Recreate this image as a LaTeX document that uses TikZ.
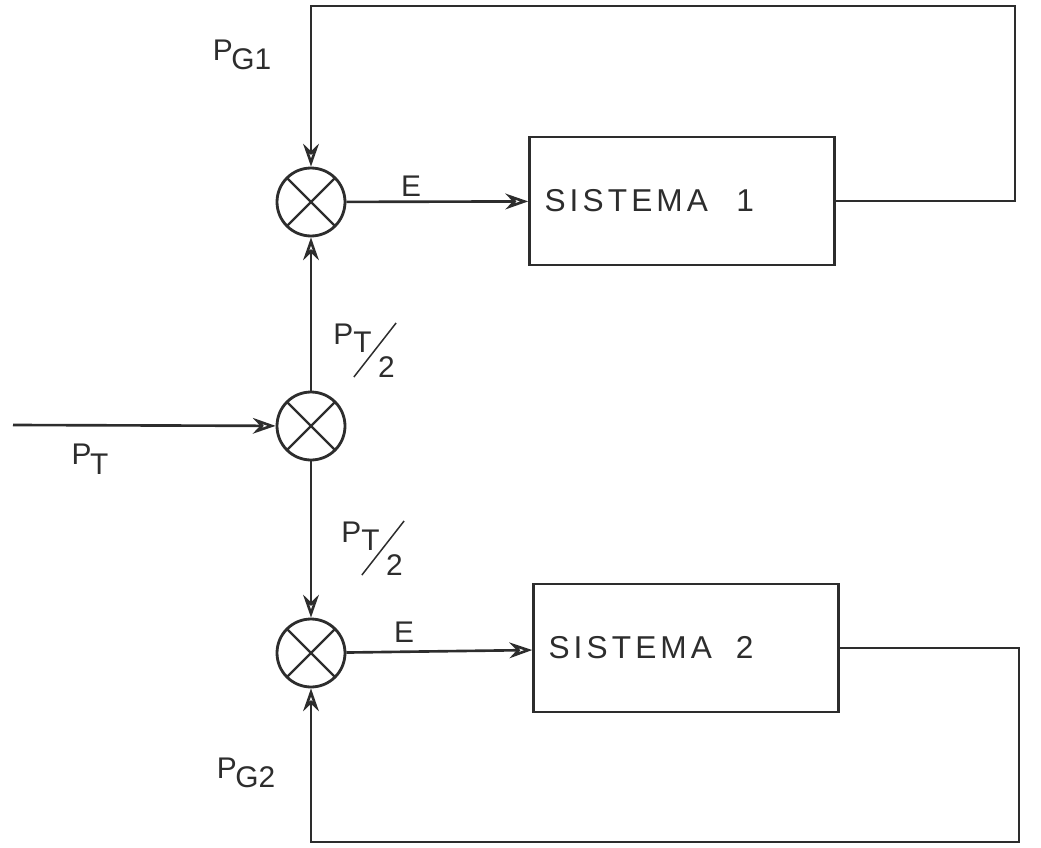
\documentclass[tikz,border=0pt]{standalone}
\usepackage{fontspec}
\usepackage{graphicx}
\setmainfont{Liberation Sans}
\newfontfamily\widefont[LetterSpace=13]{Liberation Sans}
\usetikzlibrary{arrows.meta,positioning,calc}
\definecolor{InkGray}{RGB}{45,45,45}
\newcommand{\lowsub}[1]{\raisebox{-0.6ex}{\kern-0.05em#1}}
\newcommand{\halfPT}{P\rlap{\raisebox{-1.1em}{\rotatebox[origin=bl]{52}{\rule{2.3em}{0.05em}}}}\raisebox{-0.27em}{T}\kern0.22em\raisebox{-1.1em}{2}}
\tikzset{
  sumj/.style={circle,draw=InkGray,line width=1.6pt,minimum size=1.36cm,inner sep=0pt,
    path picture={\draw[InkGray,line width=1.3pt] (path picture bounding box.north west)--(path picture bounding box.south east)
      (path picture bounding box.north east)--(path picture bounding box.south west);}},
  sysbox/.style={draw=InkGray,line width=1.5pt,text width=5.5cm,inner xsep=0.3cm,minimum height=2.56cm,align=left,
    font=\widefont\fontsize{18}{21}\selectfont,text=InkGray},
  lbl/.style={font=\fontsize{17}{20}\selectfont,text=InkGray},
  arr/.style={-{Stealth[open,length=13pt,width=9pt]},InkGray,line width=1.5pt},
}

\begin{document}
\begin{tikzpicture}[x=0.02cm,y=-0.02cm]
        \useasboundingbox (0,0) rectangle (1041,848);
        \node[sumj] (s1) at (311,202) {};
        \node[sumj] (s0) at (311,426) {};
        \node[sumj] (s2) at (311,653) {};
        \node[sysbox] (sys1) at (682,201) {SISTEMA\hspace{0.9em}1};
        \node[sysbox] (sys2) at (686,648) {SISTEMA\hspace{0.75em}2};
        \coordinate (inp) at (13,425);
        \coordinate (c1) at (1015,6);
        \coordinate (c2) at (1019,842);
        \draw[arr] (inp)--(s0);
        \draw[arr] (s0)--(s1); \draw[arr] (s0)--(s2);
        \draw[arr] (s1)--(sys1); \draw[arr] (s2)--(sys2);
        \draw[arr] (sys1.east) -| (c1) -| (s1.north);
        \draw[arr] (sys2.east) -| (c2) -| (s2.south);
        \node[lbl] (pg1) at (242,55) {P\lowsub{G1}};
        \node[lbl] (e1) at (411,186) {E};
        \node[lbl] (e2) at (404,632) {E};
        \node[lbl] (pt) at (90,459) {P\lowsub{T}};
        \node[lbl] (half1) at (364,350) {\halfPT};
        \node[lbl] (half2) at (372,548) {\halfPT};
        \node[lbl] (pg2) at (246,773) {P\lowsub{G2}};
      \end{tikzpicture}
\end{document}
